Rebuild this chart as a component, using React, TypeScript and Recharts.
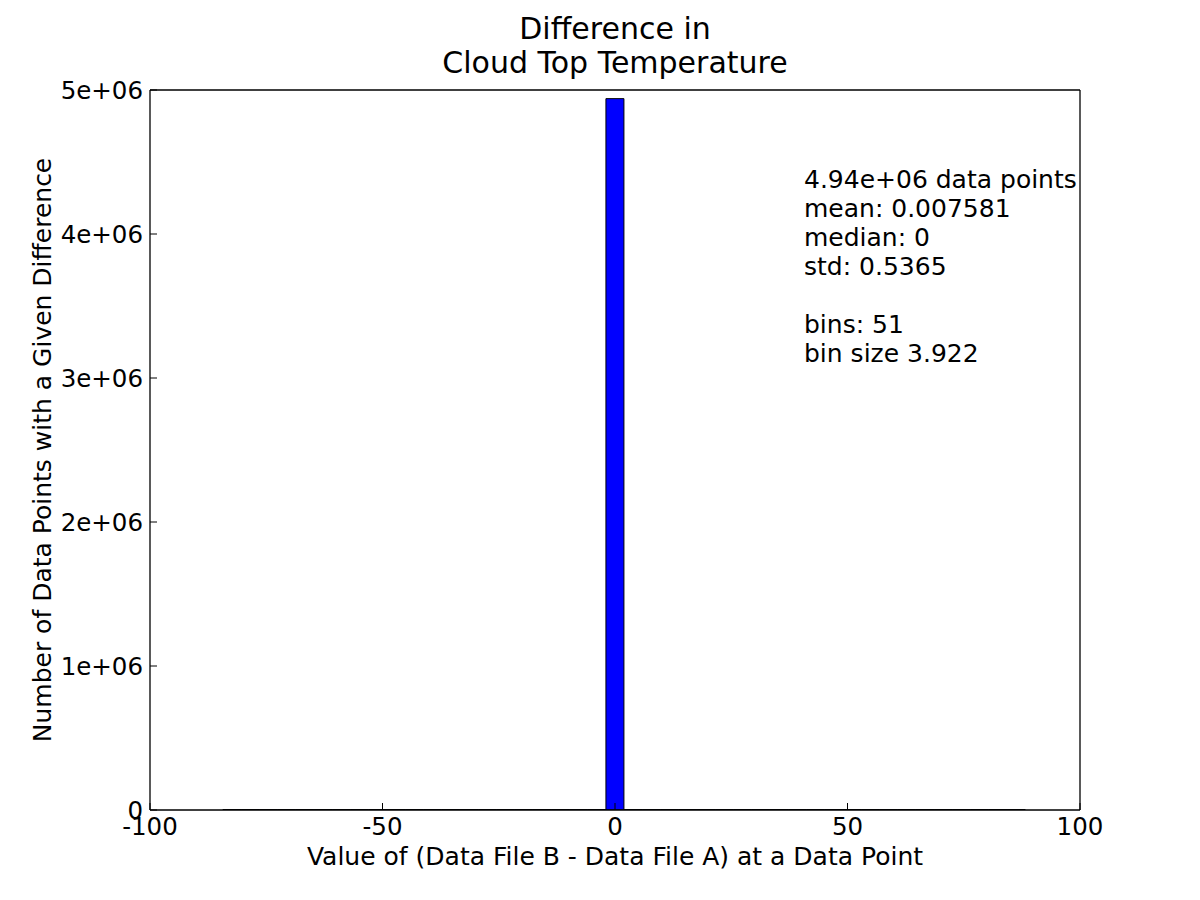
import React from 'react';
import { BarChart, Bar, XAxis, YAxis } from 'recharts';

// Histogram bins (51 bins, bin size 3.922, from -100 to 100)
const binCount = 51;
const binSize = 3.922;
const binCenters: number[] = Array.from({ length: binCount }, (_, i) => -100 + binSize * (i + 0.5));

// Counts per bin (the tiny ones are sub-pixel)
const counts: number[] = [
  0, 0, 0, 0, 3000, 3000, 3000, 3000, 3000, 3000,
  3000, 3000, 3000, 3000, 3000, 3000, 3000, 3000, 3000, 3000,
  3000, 3000, 3000, 3000, 3000, 4940000, 3000, 3000, 3000, 3000,
  3000, 3000, 3000, 3000, 3000, 3000, 3000, 3000, 3000, 3000,
  3000, 3000, 3000, 3000, 3000, 3000, 3000, 3000, 0, 0,
  0,
];

const xTicks: number[] = [-100, -50, 0, 50, 100];
const yTicks: number[] = [0, 1000000, 2000000, 3000000, 4000000, 5000000];

const titleLines: string[] = ['Difference in', 'Cloud Top Temperature'];
const xLabel = 'Value of (Data File B - Data File A) at a Data Point';
const yLabel = 'Number of Data Points with a Given Difference';
const statsLines: string[] = [
  '4.94e+06 data points',
  'mean: 0.007581',
  'median: 0',
  'std: 0.5365',
  '',
  'bins: 51',
  'bin size 3.922',
];

const data = binCenters.map((c, i) => ({ x: c, count: counts[i] }));

const FONT = "'DejaVu Sans', sans-serif";
const fmtY = (v: number) => (v === 0 ? '0' : `${v / 1000000}e+06`);

const tickStyle = { fontFamily: FONT, fontSize: 24.5, fill: '#000' };

export default function App() {
  return (
    <div style={{ position: 'absolute', left: 0, top: 0, width: 1200, height: 900, background: '#fff' }}>
      <BarChart
        width={1200}
        height={900}
        data={data}
        margin={{ top: 89, right: 119, bottom: 30, left: 0 }}
        barCategoryGap={0}
        barGap={0}
      >
        <XAxis
          dataKey="x"
          type="number"
          domain={[-100, 100]}
          allowDataOverflow
          ticks={xTicks}
          height={60}
          tickSize={-7}
          tickMargin={15}
          tick={tickStyle}
          axisLine={{ stroke: '#000', strokeWidth: 1.3 }}
          tickLine={{ stroke: '#000' }}
        />
        <XAxis
          xAxisId="top"
          orientation="top"
          type="number"
          domain={[-100, 100]}
          allowDataOverflow
          ticks={xTicks}
          height={1}
          tickSize={-7}
          tick={false}
          axisLine={{ stroke: '#000', strokeWidth: 1.3 }}
          tickLine={{ stroke: '#000' }}
        />
        <YAxis
          type="number"
          domain={[0, 5000000]}
          allowDataOverflow
          ticks={yTicks}
          width={150}
          tickSize={-7}
          tickMargin={14}
          tickFormatter={fmtY}
          tick={tickStyle}
          axisLine={{ stroke: '#000', strokeWidth: 1.3 }}
          tickLine={{ stroke: '#000' }}
        />
        <YAxis
          yAxisId="right"
          orientation="right"
          type="number"
          domain={[0, 5000000]}
          allowDataOverflow
          ticks={yTicks}
          width={1}
          tickSize={-7}
          tick={false}
          axisLine={{ stroke: '#000', strokeWidth: 1.3 }}
          tickLine={{ stroke: '#000' }}
        />
        <Bar dataKey="count" fill="#0000ff" stroke="#000" strokeWidth={1} isAnimationActive={false} />
      </BarChart>

      <div style={{ position: 'absolute', left: 0, width: 1230, top: 12, textAlign: 'center', fontFamily: FONT, fontSize: 30, lineHeight: '34px', color: '#000' }}>
        {titleLines.map((l, i) => (
          <div key={i}>{l}</div>
        ))}
      </div>

      <div style={{ position: 'absolute', left: 0, width: 1230, top: 842, textAlign: 'center', fontFamily: FONT, fontSize: 25, color: '#000', whiteSpace: 'nowrap' }}>
        {xLabel}
      </div>

      <div
        style={{
          position: 'absolute',
          left: 42,
          top: 450,
          transform: 'translate(-50%, -50%) rotate(-90deg)',
          fontFamily: FONT,
          fontSize: 25,
          color: '#000',
          whiteSpace: 'nowrap',
        }}
      >
        {yLabel}
      </div>

      <div style={{ position: 'absolute', left: 804, top: 165, fontFamily: FONT, fontSize: 25, lineHeight: '29px', color: '#000', whiteSpace: 'pre' }}>
        {statsLines.map((l, i) => (
          <div key={i} style={{ height: 29 }}>{l}</div>
        ))}
      </div>
    </div>
  );
}
